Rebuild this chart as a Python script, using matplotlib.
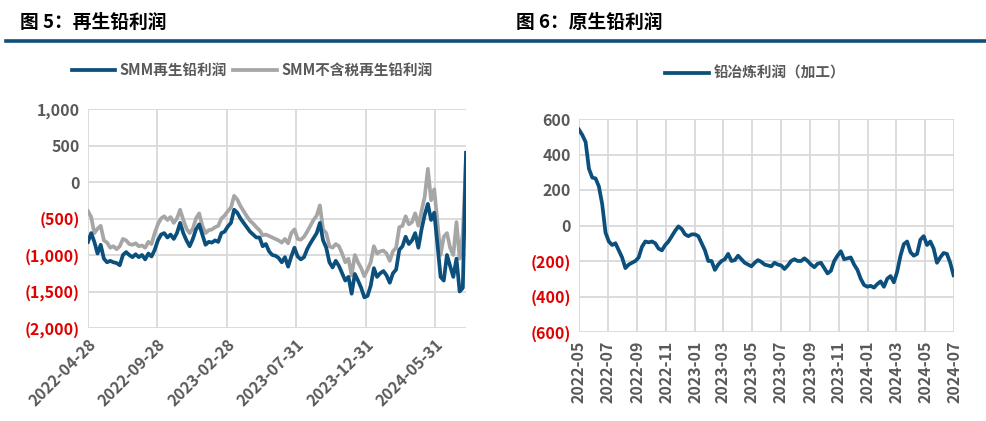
import numpy as np
import pandas as pd
import matplotlib
matplotlib.use("Agg")
import matplotlib.pyplot as plt
import matplotlib.dates as mdates
from matplotlib.lines import Line2D

plt.rcParams['font.family'] = ['Noto Sans CJK SC', 'DejaVu Sans']

BLUE = '#0b4f7c'
GRAY = '#a6a6a6'
TXT = '#595959'
RED = '#e00000'
GRID = '#d9d9d9'

# ---- figure 5: recycled lead profit (weekly readings) ----
left_start = '2022-04-28'
smm_profit = [
    -820, -700, -820, -980, -860, -1050, -1100, -1080, -1100, -1110,
    -1140, -1000, -960, -1000, -1030, -990, -1030, -1000, -1060, -980,
    -1020, -930, -800, -720, -700, -760, -720, -780, -700, -560,
    -700, -800, -880, -780, -650, -580, -720, -860, -820, -830,
    -800, -820, -700, -680, -610, -560, -380, -420, -500, -560,
    -620, -680, -720, -760, -760, -880, -850, -950, -1000, -1010,
    -1040, -1100, -1030, -1160, -1020, -900, -1020, -1060, -1030, -920,
    -840, -770, -700, -560, -800, -900, -1100, -1170, -1080, -1150,
    -1250, -1350, -1300, -1530, -1260, -1350, -1450, -1580, -1560, -1420,
    -1180, -1300, -1250, -1220, -1280, -1380, -1250, -1200, -930, -880,
    -750, -850, -800, -700, -900, -650, -450, -300, -520, -420,
    -850, -1300, -1350, -1000, -1150, -1300, -1050, -1500, -1450, 400,
]
smm_profit_ex_tax = [
    -400, -480, -700, -640, -600, -800, -830, -900, -880, -920,
    -880, -780, -800, -850, -860, -840, -880, -870, -900, -820,
    -850, -700, -580, -500, -470, -520, -480, -560, -500, -380,
    -520, -640, -700, -640, -500, -430, -600, -700, -660, -650,
    -620, -600, -500, -460, -400, -350, -190, -240, -330, -400,
    -470, -530, -570, -620, -660, -730, -720, -740, -760, -780,
    -800, -830, -780, -840, -700, -650, -780, -790, -750, -680,
    -600, -520, -460, -320, -650, -700, -880, -900, -850, -880,
    -980, -1100, -1050, -1280, -1000, -1100, -1180, -1290, -1200, -1100,
    -880, -980, -950, -940, -980, -1080, -950, -900, -620, -600,
    -470, -580, -550, -430, -600, -400, -200, 180, -250, -100,
    -550, -1000, -750, -700, -900, -1000, -550, -1050, -700, 300,
]
left_ticks = ['2022-04-28', '2022-09-28', '2023-02-28', '2023-07-31', '2023-12-31', '2024-05-31']
left_end = '2024-08-08'

# ---- figure 6: primary lead smelting profit (weekly readings) ----
right_start = '2022-05-01'
smelt_profit = [
    540, 510, 470, 320, 270, 265, 220, 120, -40, -90,
    -110, -100, -140, -180, -240, -220, -210, -200, -180, -120,
    -90, -95, -90, -100, -130, -140, -110, -90, -60, -30,
    -5, -20, -50, -60, -50, -50, -60, -100, -140, -200,
    -200, -250, -220, -200, -190, -160, -200, -195, -170, -190,
    -210, -220, -230, -210, -195, -205, -220, -225, -230, -210,
    -220, -225, -245, -225, -200, -190, -200, -200, -185, -200,
    -220, -235, -215, -210, -240, -270, -255, -200, -170, -145,
    -190, -185, -180, -220, -250, -300, -335, -345, -340, -350,
    -330, -315, -345, -300, -285, -320, -260, -170, -105, -90,
    -150, -170, -160, -80, -60, -110, -90, -130, -210, -180,
    -155, -160, -210, -280,
]
right_end = '2024-07-01'


def paren_fmt(v, pos=None):
    if v < 0:
        return f"({abs(v):,.0f})"
    return f"{v:,.0f}"


def style_axis(ax, yticks):
    for s in ax.spines.values():
        s.set_visible(False)
    ax.set_yticks(yticks)
    ax.set_ylim(yticks[0], yticks[-1])
    ax.yaxis.set_major_formatter(plt.FuncFormatter(paren_fmt))
    ax.grid(True, color=GRID, lw=1.3)
    ax.set_axisbelow(True)
    ax.tick_params(length=0, labelsize=11.5, labelcolor=TXT, pad=6)
    for lab, v in zip(ax.get_yticklabels(), yticks):
        lab.set_fontweight('bold')
        lab.set_color(RED if v < 0 else TXT)
    for lab in ax.get_xticklabels():
        lab.set_fontweight('bold')
        lab.set_color(TXT)


fig = plt.figure(figsize=(9.86, 4.21), dpi=100)

# left panel
ax1 = fig.add_axes([88 / 986, 93 / 421, 378 / 986, 219 / 421])
d1 = pd.date_range(left_start, periods=len(smm_profit), freq='7D')
ax1.plot(d1, smm_profit_ex_tax, color=GRAY, lw=2.7, label='SMM不含税再生铅利润')
ax1.plot(d1, smm_profit, color=BLUE, lw=2.7, label='SMM再生铅利润')
ax1.set_xlim(pd.Timestamp(left_start), pd.Timestamp(left_end))
ax1.set_xticks(pd.to_datetime(left_ticks))
ax1.set_xticklabels(left_ticks, rotation=45, ha='right', rotation_mode='anchor')
style_axis(ax1, list(range(-2000, 1001, 500)))

h, l = ax1.get_legend_handles_labels()
fig.legend(h[::-1], l[::-1], loc='center', bbox_to_anchor=(252 / 986, 1 - 70 / 421),
           ncol=2, frameon=False, handlelength=3.0, handletextpad=0.3, columnspacing=0.4,
           prop={'weight': 'bold', 'size': 10.5}, labelcolor=TXT)

# right panel
ax2 = fig.add_axes([579 / 986, 89 / 421, 375 / 986, 213 / 421])
d2 = pd.date_range(right_start, periods=len(smelt_profit), freq='7D')
ax2.plot(d2, smelt_profit, color=BLUE, lw=2.7, label='铅冶炼利润（加工）')
ax2.set_xlim(pd.Timestamp(right_start), pd.Timestamp(right_end))
ax2.xaxis.set_major_locator(mdates.MonthLocator(bymonth=[1, 3, 5, 7, 9, 11]))
ax2.xaxis.set_major_formatter(mdates.DateFormatter('%Y-%m'))
plt.setp(ax2.get_xticklabels(), rotation=90)
style_axis(ax2, list(range(-600, 601, 200)))

h, l = ax2.get_legend_handles_labels()
fig.legend(h, l, loc='center', bbox_to_anchor=(755 / 986, 1 - 73 / 421),
           frameon=False, handlelength=3.0, handletextpad=0.3,
           prop={'weight': 'bold', 'size': 10.5}, labelcolor=TXT)

# headers and rule
fig.text(20 / 986, 1 - 22 / 421, '图 5：再生铅利润', fontsize=13.5, fontweight='heavy',
         va='center', ha='left', color='black')
fig.text(516 / 986, 1 - 22 / 421, '图 6：原生铅利润', fontsize=13.5, fontweight='heavy',
         va='center', ha='left', color='black')
fig.add_artist(Line2D([6 / 986, 1], [1 - 41 / 421] * 2, transform=fig.transFigure,
                      color='#134e78', lw=2.6))

fig.savefig('out.png', dpi=100)
